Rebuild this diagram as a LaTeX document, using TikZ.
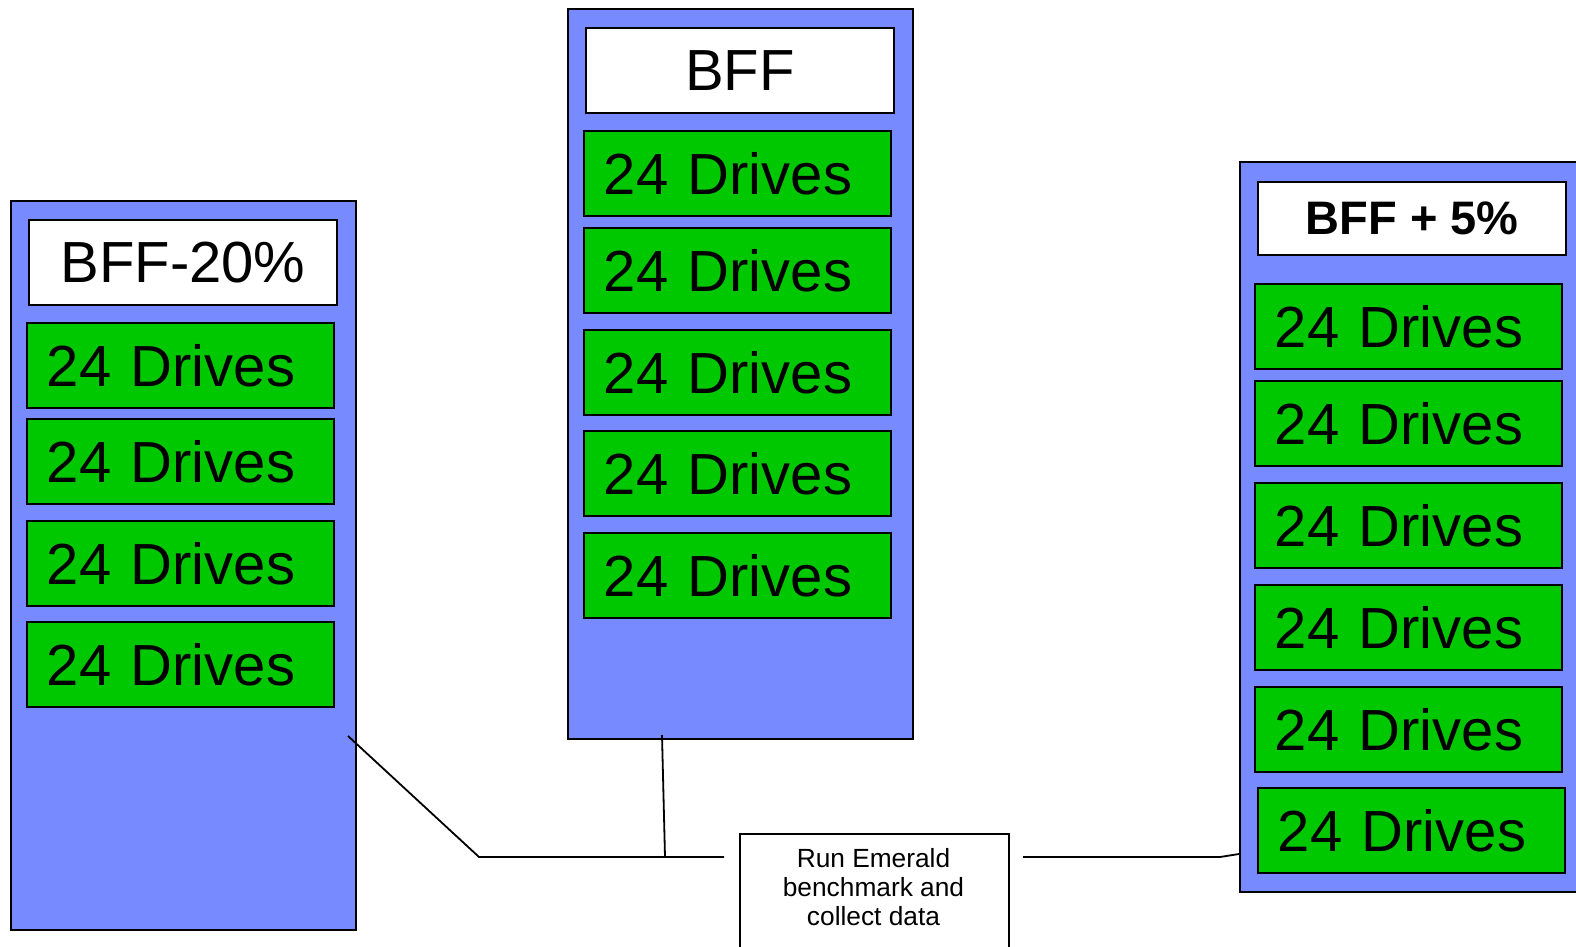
\documentclass[tikz,border=0pt]{standalone}
\usepackage{fontspec}
\setmainfont{Liberation Sans}
\definecolor{rackblue}{RGB}{120,138,255}
\definecolor{drivegreen}{RGB}{0,200,0}
\begin{document}
\begin{tikzpicture}[x=1pt,y=-1pt,
  rack/.style={draw=black, line width=2.3pt, fill=rackblue, anchor=north west, minimum width=345pt, minimum height=730pt, inner sep=0pt},
  lbl/.style={draw=black, line width=2.1pt, fill=white, anchor=north west, minimum width=308pt, minimum height=85pt, inner sep=0pt, font=\fontsize{58}{60}\selectfont},
  drv/.style={draw=black, line width=1.8pt, fill=drivegreen, anchor=north west, minimum height=85pt, inner xsep=20pt, inner ysep=0pt, text width=267pt, align=left, font=\fontsize{58}{60}\selectfont},
  conn/.style={draw=black, line width=1.8pt}
]
\useasboundingbox (0,0) rectangle (1576,947);

% left rack
\node[rack, minimum height=729pt] (rackL) at (10,200) {};
\node[lbl] (lblL) at (28,219) {BFF-20\%};
\node[drv] (dL1) at (26,322) {24 Drives};
\node[drv] (dL2) at (26,418) {24 Drives};
\node[drv] (dL3) at (26,520) {24 Drives};
\node[drv] (dL4) at (26,621) {24 Drives};

% middle rack
\node[rack] (rackM) at (567,8) {};
\node[lbl] (lblM) at (585,27) {BFF};
\node[drv] (dM1) at (583,130) {24 Drives};
\node[drv] (dM2) at (583,227) {24 Drives};
\node[drv] (dM3) at (583,329) {24 Drives};
\node[drv] (dM4) at (583,430) {24 Drives};
\node[drv] (dM5) at (583,532) {24 Drives};

% right rack
\node[rack] (rackR) at (1239,161) {};
\node[lbl, minimum height=73pt, font=\fontsize{47}{50}\selectfont\bfseries] (lblR) at (1257,181) {BFF + 5\%};
\node[drv] (dR1) at (1254,283) {24 Drives};
\node[drv] (dR2) at (1254,380) {24 Drives};
\node[drv] (dR3) at (1254,482) {24 Drives};
\node[drv] (dR4) at (1254,584) {24 Drives};
\node[drv] (dR5) at (1254,686) {24 Drives};
\node[drv] (dR6) at (1257,787) {24 Drives};

% benchmark box
\node[draw=black, line width=2pt, fill=white, anchor=north west, minimum width=269pt, minimum height=140pt, inner sep=0pt] (emer) at (739,833) {};
\node[align=center, font=\fontsize{26.3}{29}\selectfont, inner sep=0pt] (emertext) at (873.5,887) {Run Emerald\\benchmark and\\collect data};

% connectors
\coordinate (lstart) at (348,736);
\coordinate (lj) at (479,857);
\coordinate (le) at (724,857);
\coordinate (mstart) at (662,735);
\coordinate (mj) at (665,857);
\coordinate (rs) at (1023,857);
\coordinate (rk) at (1220,857);
\coordinate (re) at (1239,854);
\draw[conn] (lstart) -- (lj) -- (le);
\draw[conn] (mstart) -- (mj);
\draw[conn] (rs) -- (rk) -- (re);
\end{tikzpicture}
\end{document}
